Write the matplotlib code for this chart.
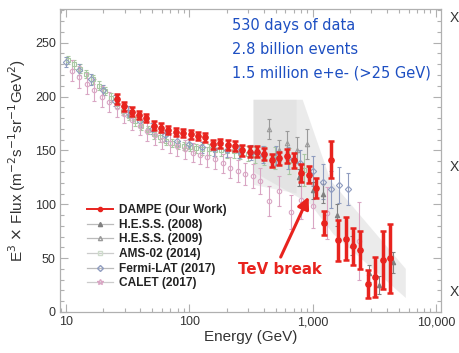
import matplotlib
matplotlib.use("Agg")
import matplotlib.pyplot as plt
from matplotlib.lines import Line2D
from matplotlib.ticker import FixedLocator, FuncFormatter, LogLocator, MultipleLocator, NullFormatter

# DAMPE electron + positron spectrum, E^3 x flux
dampe_e = [25.7, 29.5, 33.9, 38.9, 44.6, 51.2, 58.8, 67.5, 77.5, 89.0,
           102.2, 117.3, 134.6, 154.6, 177.4, 203.7, 233.9, 268.5, 308.2, 353.8,
           406.2, 466.3, 535.3, 614.5, 705.5, 809.9, 929.8, 1067, 1225, 1407,
           1615, 1854, 2128, 2443, 2805, 3220, 3696, 4243]
dampe_f = [197.6, 191, 186, 183, 180, 173, 171, 169, 167, 166,
           165, 163.5, 162, 155.5, 156.5, 155, 154, 150, 148.7, 148.7,
           147, 141, 142.6, 144.7, 141, 129, 127.5, 115, 82.6, 141.5,
           66.8, 68, 61, 57.5, 26, 32.5, 48, 50]
dampe_err = [4.5, 4, 4, 4, 4, 4, 4, 4, 4, 4,
             4, 4, 4, 4, 4.5, 4.5, 4.5, 5, 5, 5,
             5.5, 6, 6, 6.5, 7, 8, 8, 9, 11, 17,
             19, 20, 17, 18, 13, 19, 27, 32]

hess08_e = [770, 1000, 1222, 1584, 2103, 2871, 3459, 4500]
hess08_f = [125, 113, 110, 90, 62, 36, 25, 46]
hess08_err = [8, 8, 9, 10, 9, 8, 8, 10]

hess09_e = [446, 532, 620, 741, 906]
hess09_f = [170, 150, 157, 150, 156]
hess09_err = [9, 10, 11, 12, 14]

ams_e = [10.3, 11.6, 13.0, 14.6, 16.4, 18.4, 20.6, 23.1, 25.9, 29.0,
         32.5, 36.4, 40.8, 45.7, 51.2, 57.4, 64.3, 72.0, 80.7, 90.4,
         101, 114, 127, 143, 160, 179, 202, 228, 259, 296,
         343, 406, 495, 645, 855]
ams_f = [234, 230, 226, 221, 216, 210, 205, 199, 193, 187,
         182, 177, 173, 169, 165, 162, 159, 157, 155, 154,
         153, 152, 151, 151, 150, 150, 149, 149, 148, 147,
         146, 145, 143, 140, 132]
ams_err = [4, 4, 4, 4, 4, 4, 4, 4, 4, 4,
           4, 4, 4, 4, 4, 4, 4, 4, 4, 4,
           4, 4, 5, 5, 5, 5, 6, 6, 6, 7,
           8, 9, 10, 12, 15]

fermi_e = [10, 12.6, 15.8, 20, 25, 31.6, 39.8, 50, 63, 79,
           100, 126, 158, 200, 251, 316, 398, 501, 631, 794,
           1000, 1222, 1420, 1650, 1920]
fermi_f = [232, 225, 216, 206, 196, 186, 177, 170, 164, 159,
           156, 153, 151, 150, 149, 148, 146, 145, 143, 138,
           131, 121, 114, 118, 114]
fermi_err = [5, 5, 5, 5, 5, 5, 5, 5, 5, 5,
             5, 5, 6, 6, 6, 7, 8, 9, 10, 12,
             14, 16, 17, 17, 15]

calet_e = [11.2, 12.8, 14.7, 16.9, 19.5, 22.4, 25.8, 29.7, 34.2, 39.4,
           45.4, 52.2, 60.1, 69.2, 79.7, 91.7, 106, 122, 140, 161,
           186, 214, 246, 283, 326, 376, 446, 530, 661, 800, 1000, 1300, 2367]
calet_f = [224, 218, 212, 206, 200, 195, 190, 184, 178, 173,
           168, 164, 160, 157, 154, 151, 148, 146, 144, 142,
           138, 134, 131, 128, 126, 122, 103, 112, 93, 104, 98, 92, 66]
calet_err = [10, 10, 10, 10, 10, 9, 9, 9, 9, 9,
             9, 9, 9, 9, 9, 9, 9, 9, 9, 9,
             9, 10, 10, 10, 11, 12, 14, 14, 16, 18, 20, 24, 36]

# H.E.S.S. systematic bands
band1_e = [331, 742, 742, 331]
band1_f = [197, 197, 110, 118]
band2_e = [331, 830, 1400, 5700, 5700, 1480, 960, 331]
band2_f = [197, 197, 122, 40, 13, 72, 100, 130]

legend_labels = ["DAMPE (Our Work)", "H.E.S.S. (2008)", "H.E.S.S. (2009)",
                 "AMS-02 (2014)", "Fermi-LAT (2017)", "CALET (2017)"]
info_lines = ["530 days of data", "2.8 billion events", "1.5 million e+e- (>25 GeV)"]

RED = "#e8231e"
BLUE = "#1d4fc2"
SPINE = "#b0b0b0"

fig = plt.figure(figsize=(4.59, 3.53), dpi=100)
ax = fig.add_axes([60 / 459, 1 - 312 / 353, 381 / 459, 302.7 / 353])

ax.fill(band1_e, band1_f, color="#d9d9d9", alpha=0.4, lw=0, zorder=1)
ax.fill(band2_e, band2_f, color="#d9d9d9", alpha=0.5, lw=0, zorder=1)

others = [
    (ams_e, ams_f, ams_err, "s", "#a9c9a3", "none"),
    (fermi_e, fermi_f, fermi_err, "D", "#8f9cbf", "none"),
    (calet_e, calet_f, calet_err, "o", "#d9a6c4", "none"),
    (hess09_e, hess09_f, hess09_err, "^", "#9a9a9a", "none"),
    (hess08_e, hess08_f, hess08_err, "^", "#808080", "#808080"),
]
for e, f, err, mk, col, face in others:
    ax.errorbar(e, f, yerr=err, fmt=mk, ms=3.2, mfc=face, mec=col, mew=0.8,
                ecolor=col, elinewidth=0.8, capsize=1.6, capthick=0.8, zorder=2)

ax.errorbar(dampe_e, dampe_f, yerr=dampe_err, fmt="o", ms=3.8, color=RED,
            mec=RED, ecolor=RED, elinewidth=2.5, capsize=2.2, capthick=1.8, zorder=4)

ax.set_xscale("log")
ax.set_xlim(8.9, 11000)
ax.set_ylim(0, 281)

ax.xaxis.set_major_locator(FixedLocator([10, 100, 1000, 10000]))
ax.xaxis.set_major_formatter(FuncFormatter(lambda v, p: f"{int(round(v)):,}"))
ax.xaxis.set_minor_locator(LogLocator(base=10, subs=range(2, 10)))
ax.xaxis.set_minor_formatter(NullFormatter())
ax.yaxis.set_major_locator(MultipleLocator(50))
ax.yaxis.set_minor_locator(MultipleLocator(10))

ax.tick_params(which="both", direction="in", top=True, right=True, color=SPINE,
               labelsize=9, labelcolor="#333333", width=0.8)
ax.tick_params(which="major", length=5.5, pad=3)
ax.tick_params(which="minor", length=2.8)
for lbl in ax.get_xticklabels() + ax.get_yticklabels():
    lbl.set_family("Liberation Sans")
for s in ax.spines.values():
    s.set_color(SPINE)
    s.set_linewidth(0.9)

ax.set_xlabel("Energy (GeV)", fontsize=11, family="Liberation Sans", color="#333333", labelpad=1)
ax.set_ylabel(r"E$^3$ $\times$ Flux (m$^{-2}$s$^{-1}$sr$^{-1}$GeV$^{2}$)", fontsize=11,
              family="Liberation Sans", color="#333333", labelpad=5)

for i, line in enumerate(info_lines):
    ax.text(0.452, 0.945 - i * 0.078, line, transform=ax.transAxes, fontsize=10.5,
            color=BLUE, family="DejaVu Sans", va="center", ha="left")

ax.annotate("", xy=(927, 107), xytext=(550, 51),
            arrowprops=dict(arrowstyle="-|>,head_length=0.7,head_width=0.35",
                            color=RED, lw=2.2, shrinkA=0, shrinkB=0), zorder=5)
ax.text(545, 39, "TeV break", fontsize=10.8, fontweight="bold", color=RED,
        family="DejaVu Sans", ha="center", va="center", zorder=5)

handles = [
    Line2D([], [], color=RED, lw=1.4, marker="o", ms=3, mfc=RED, mec=RED),
    Line2D([], [], color="#bbbbbb", lw=0.9, marker="^", ms=3, mfc="#808080", mec="#808080"),
    Line2D([], [], color="#bbbbbb", lw=0.9, marker="^", ms=3, mfc="none", mec="#9a9a9a"),
    Line2D([], [], color="#cccccc", lw=0.9, marker="s", ms=3, mfc="none", mec="#cfdccc"),
    Line2D([], [], color="#bbbbbb", lw=0.9, marker="D", ms=3, mfc="none", mec="#8f9cbf"),
    Line2D([], [], color="#cccccc", lw=0.9, marker="*", ms=4, mfc="none", mec="#d9a6c4"),
]
leg = ax.legend(handles, legend_labels, loc="upper left", bbox_to_anchor=(0.071, 0.356),
                frameon=False, borderpad=0, borderaxespad=0, handlelength=2.2,
                handletextpad=0.5, labelspacing=0.22,
                prop={"family": "Liberation Sans", "weight": "bold", "size": 8.6})
for t in leg.get_texts():
    t.set_color("#222222")

# bullet marks from the neighbouring column at the right edge
for yy in (18, 167, 292):
    fig.text(450 / 459, 1 - yy / 353, "X", fontsize=10, color="#333333",
             family="Liberation Sans", va="center", ha="left")

fig.savefig("out.png", dpi=100)
